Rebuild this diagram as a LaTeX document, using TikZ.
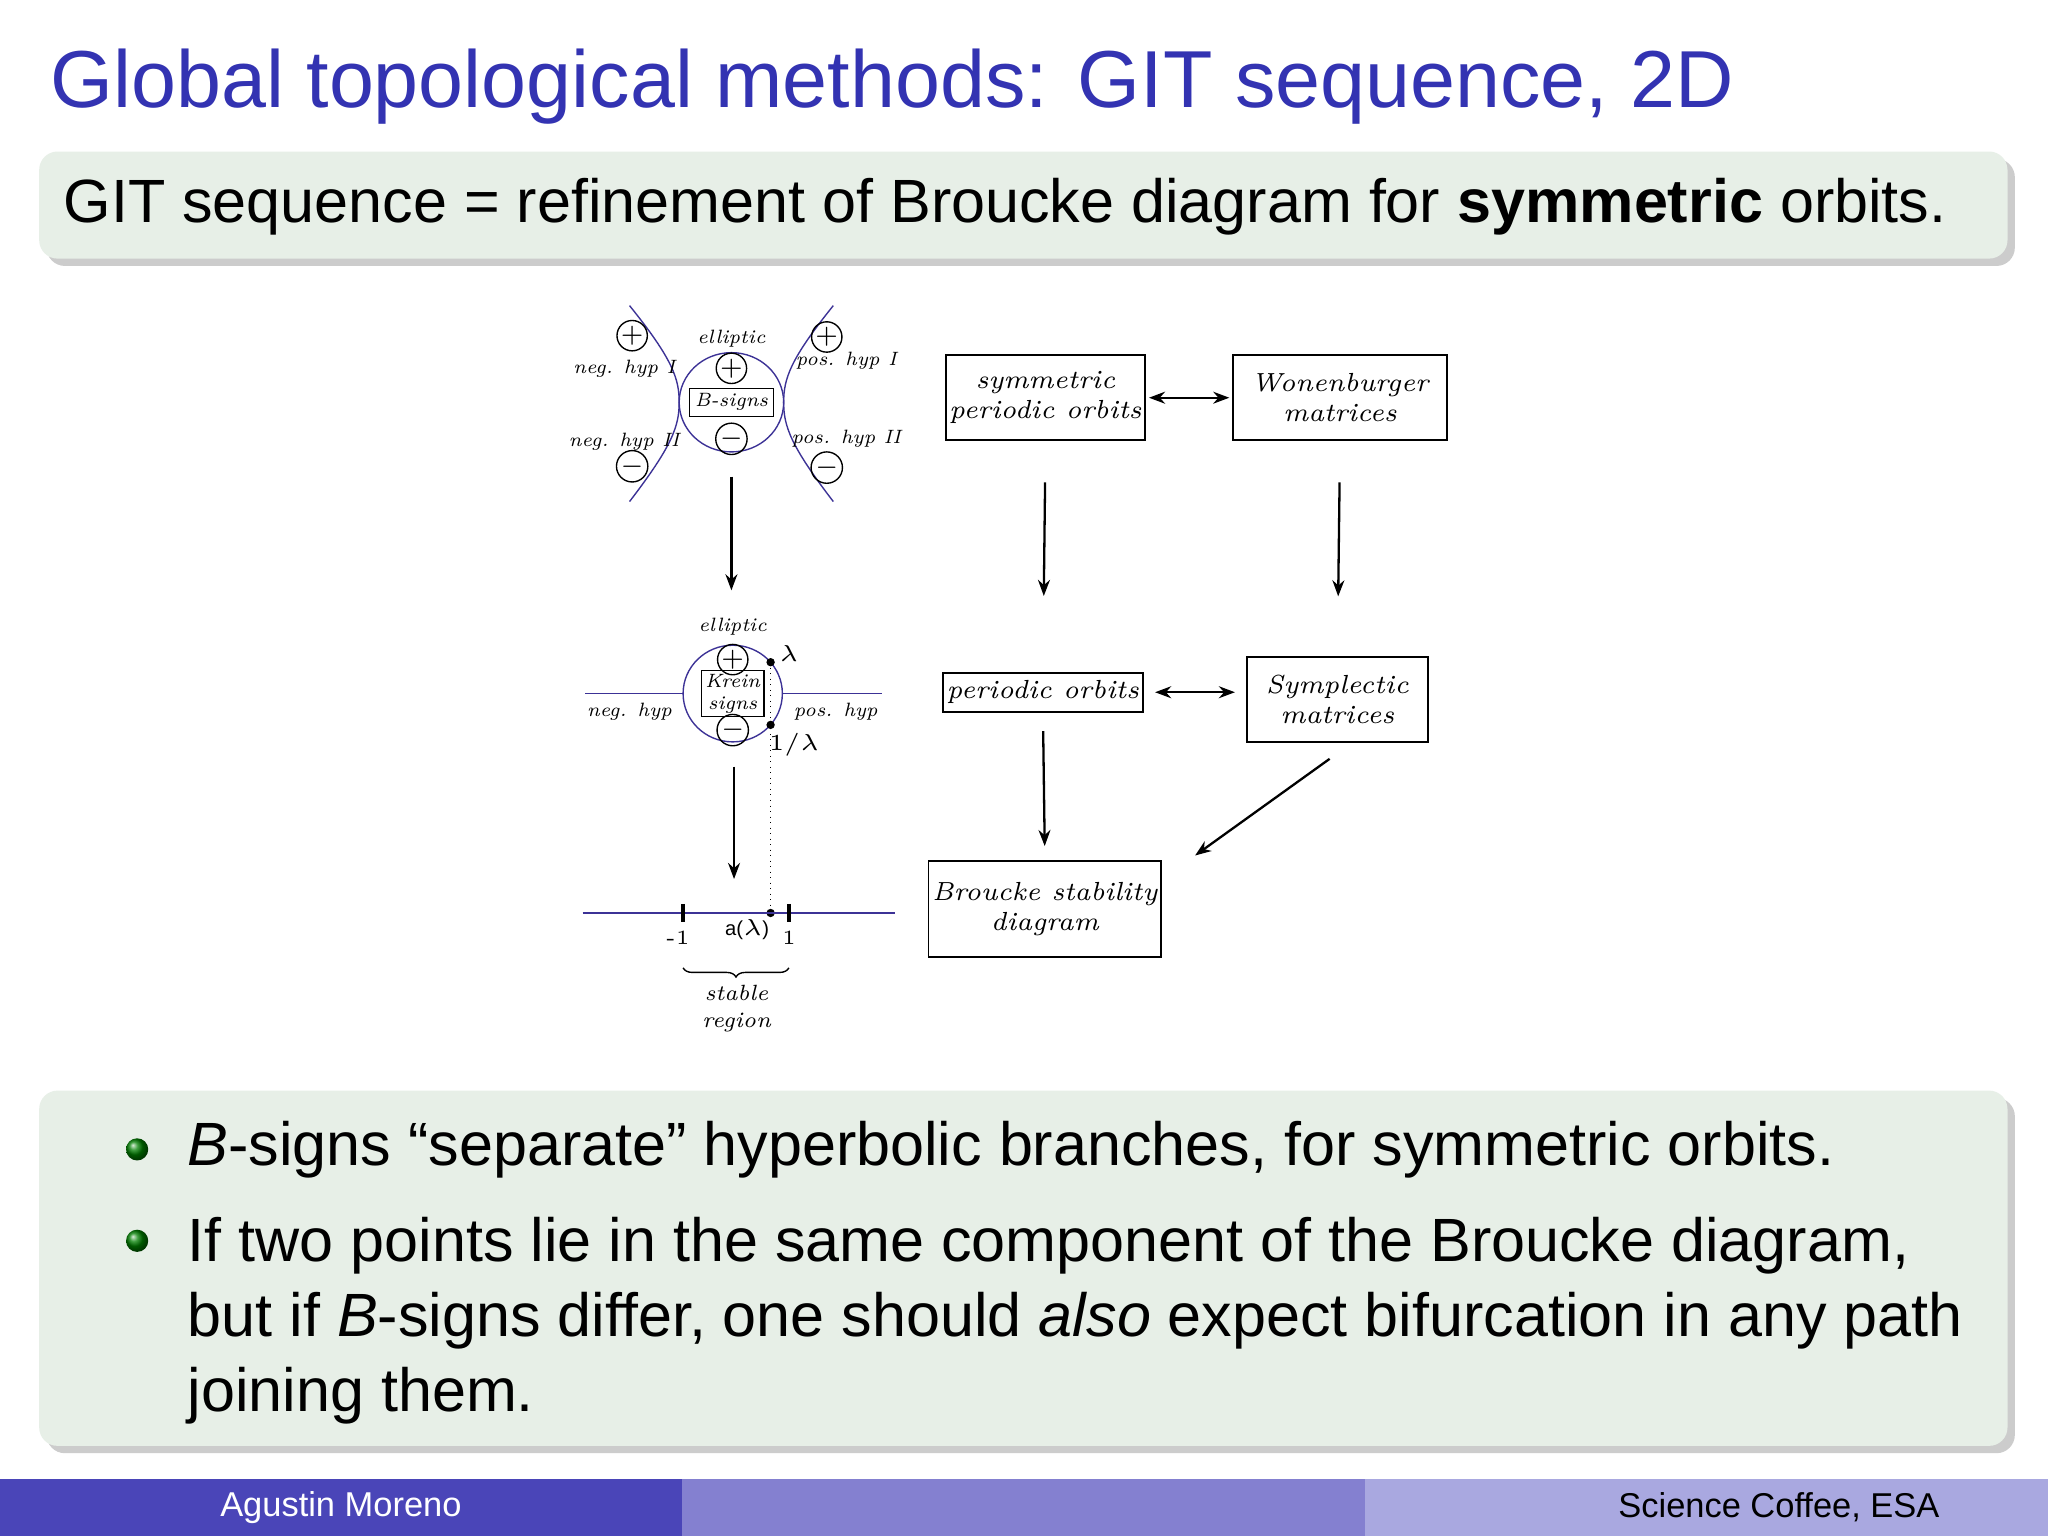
\documentclass[tikz,border=0pt]{standalone}
\usepackage{fontspec}
\setmainfont{Liberation Sans}
\usetikzlibrary{arrows.meta,decorations.pathreplacing,shadows}
\definecolor{titleblue}{RGB}{51,51,178}
\definecolor{blockbg}{RGB}{231,239,231}
\definecolor{curve}{RGB}{60,50,150}
\definecolor{fa}{RGB}{74,69,184}
\definecolor{fb}{RGB}{132,128,208}
\definecolor{fc}{RGB}{169,168,224}
\newfontfamily\hand{Latin Modern Roman}
\tikzset{
  blk/.style={fill=blockbg,rounded corners=4pt,drop shadow={shadow xshift=1.6pt,shadow yshift=-1.6pt,opacity=0.4}},
  lab/.style={font=\hand\itshape\fontsize{4.2}{4.8}\selectfont,inner sep=0.3pt,align=center},
  bx/.style={draw,line width=0.4pt,font=\hand\itshape\fontsize{5.7}{6.6}\selectfont,align=center,inner sep=0.8pt},
  sg/.style={circle,draw,line width=0.3pt,inner sep=0pt,minimum size=4.3pt,font=\fontsize{4}{4}\selectfont},
  arr/.style={-{Stealth[length=3.5pt,width=2.6pt]},line width=0.5pt},
  darr/.style={{Stealth[length=3.5pt,width=2.6pt]}-{Stealth[length=3.5pt,width=2.6pt]},line width=0.5pt},
  hyp/.style={curve,line width=0.3pt}
}
\begin{document}
\begin{tikzpicture}[x=0.01cm,y=-0.01cm]
\useasboundingbox (0,0) rectangle (1568,1176);
\fill[white] (0,0) rectangle (1568,1176);
% title
\node[anchor=west,text=titleblue,font=\fontsize{17.6}{20}\selectfont,inner sep=0] (title) at (38,66) {Global topological methods: GIT sequence, 2D};
\path[blk] (30,116) rectangle (1537,198);
\node[anchor=west,font=\fontsize{13.3}{15}\selectfont,inner sep=0] (sub) at (48,158) {GIT sequence = refinement of Broucke diagram for \textbf{symmetric} orbits.};
\path[blk] (30,835) rectangle (1537,1107);
\shade[ball color=green!50!black] (105,880) circle (8.5);
\shade[ball color=green!50!black] (105,950) circle (8.5);
\node[anchor=west,font=\fontsize{13.3}{15}\selectfont,inner sep=0] (b1) at (143,880) {\textit{B}-signs “separate” hyperbolic branches, for symmetric orbits.};
\node[anchor=north west,align=left,font=\fontsize{13.3}{16.4}\selectfont,inner sep=0] (b2) at (143,931) {If two points lie in the same component of the Broucke diagram,\\but if \textit{B}-signs differ, one should \textit{also} expect bifurcation in any path\\joining them.};
% footer
\fill[fa] (0,1132) rectangle (522,1176);
\fill[fb] (522,1132) rectangle (1045,1176);
\fill[fc] (1045,1132) rectangle (1568,1176);
\node[text=white,font=\fontsize{7.5}{9}\selectfont] (fl) at (261,1154) {Agustin Moreno};
\node[font=\fontsize{7.5}{9}\selectfont] (fr) at (1362,1154) {Science Coffee, ESA};
% top diagram
\draw[hyp] (560,308) ellipse (40 and 38);
\draw[hyp] (482,234) .. controls (515,275) and (520,290) .. (520,308) .. controls (520,326) and (515,341) .. (482,384);
\draw[hyp] (638,234) .. controls (605,275) and (600,290) .. (600,308) .. controls (600,326) and (605,341) .. (638,384);
\node[sg] (p1) at (484,257) {$+$};
\node[sg] (m1) at (484,357) {$-$};
\node[sg] (p2) at (633,258) {$+$};
\node[sg] (m2) at (633,358) {$-$};
\node[sg] (p3) at (560,282) {$+$};
\node[sg] (m3) at (560,336) {$-$};
\node[lab] (nh1) at (478,282) {neg. hyp I};
\node[lab] (nh2) at (478,338) {neg. hyp II};
\node[lab] (ph1) at (648,276) {pos. hyp I};
\node[lab] (ph2) at (648,336) {pos. hyp II};
\node[lab] (el1) at (560,259) {elliptic};
\node[lab,draw,line width=0.3pt,inner sep=1.2pt] (bs) at (560,308) {B-signs};
\coordinate (t1) at (560,365);
\coordinate (t2) at (560,452);
\draw[arr] (t1) -- (t2);
% second diagram
\draw[hyp] (561,531) ellipse (38 and 37);
\draw[hyp] (448,531) -- (523,531);
\draw[hyp] (599,531) -- (675,531);
\node[lab] (el2) at (561,480) {elliptic};
\node[sg] (p4) at (561,505) {$+$};
\node[sg] (m4) at (561,559) {$-$};
\node[lab,draw,line width=0.3pt,inner sep=0.8pt] (ks) at (561,531) {Krein\\signs};
\node[lab] (nh) at (482,545) {neg. hyp};
\node[lab] (ph) at (640,545) {pos. hyp};
\fill (590,507) circle (3.2) coordinate (la);
\fill (590,555) circle (3.2) coordinate (il);
\node[lab,font=\fontsize{5}{6}\selectfont] (lal) at (604,500) {$\lambda$};
\node[lab,font=\fontsize{5}{6}\selectfont] (ill) at (608,570) {$1/\lambda$};
\fill (590,699) circle (3.2) coordinate (al);
\draw[densely dotted,line width=0.2pt] (la) -- (al);
\coordinate (t3) at (562,587);
\coordinate (t4) at (562,673);
\draw[arr] (t3) -- (t4);
\draw[hyp] (446,699) -- (685,699);
\draw[line width=0.7pt] (523,692) -- (523,706);
\draw[line width=0.7pt] (604,692) -- (604,706);
\node[lab,font=\hand\fontsize{4.4}{5}\selectfont] (mo) at (519,718) {-1};
\node[lab,font=\hand\fontsize{4.4}{5}\selectfont] (on) at (604,718) {1};
\node[lab,font=\fontsize{4.4}{5}\selectfont] (alam) at (572,712) {a($\lambda$)};
\draw[decorate,decoration={brace,mirror,amplitude=2pt},line width=0.3pt] (523,741) -- (604,741);
\node[lab,font=\hand\itshape\fontsize{4.8}{5.8}\selectfont] (st) at (564,772) {stable\\region};
% right flow
\node[bx,minimum width=145*0.01cm,minimum height=65*0.01cm] (spo) at (800.5,304.5) {symmetric\\periodic orbits};
\node[bx,minimum width=164*0.01cm,minimum height=65*0.01cm] (wm) at (1026,304.5) {Wonenburger\\matrices};
\node[bx,minimum width=145*0.01cm,minimum height=30*0.01cm] (po) at (798.5,530) {periodic orbits};
\node[bx,minimum width=138*0.01cm,minimum height=65*0.01cm] (sm) at (1024,535.5) {Symplectic\\matrices};
\node[bx,minimum width=166*0.01cm,minimum height=74*0.01cm] (bd) at (800,696) {Broucke stability\\diagram};
\draw[darr,shorten <=0.6pt,shorten >=0.6pt] (spo) -- (wm);
\draw[darr,shorten <=2.5pt,shorten >=2.5pt] (po.east) -- (sm.west|-po.east);
\draw[arr,shorten <=9pt,shorten >=16.5pt] (spo.south) -- (po.north);
\draw[arr,shorten <=9pt,shorten >=13pt] (wm.south) -- (sm.north);
\draw[arr,shorten <=4pt,shorten >=3pt] (po.south) -- (bd.north);
\coordinate (d1) at (1018,581);
\coordinate (d2) at (915,655);
\draw[arr] (d1) -- (d2);
\end{tikzpicture}
\end{document}
